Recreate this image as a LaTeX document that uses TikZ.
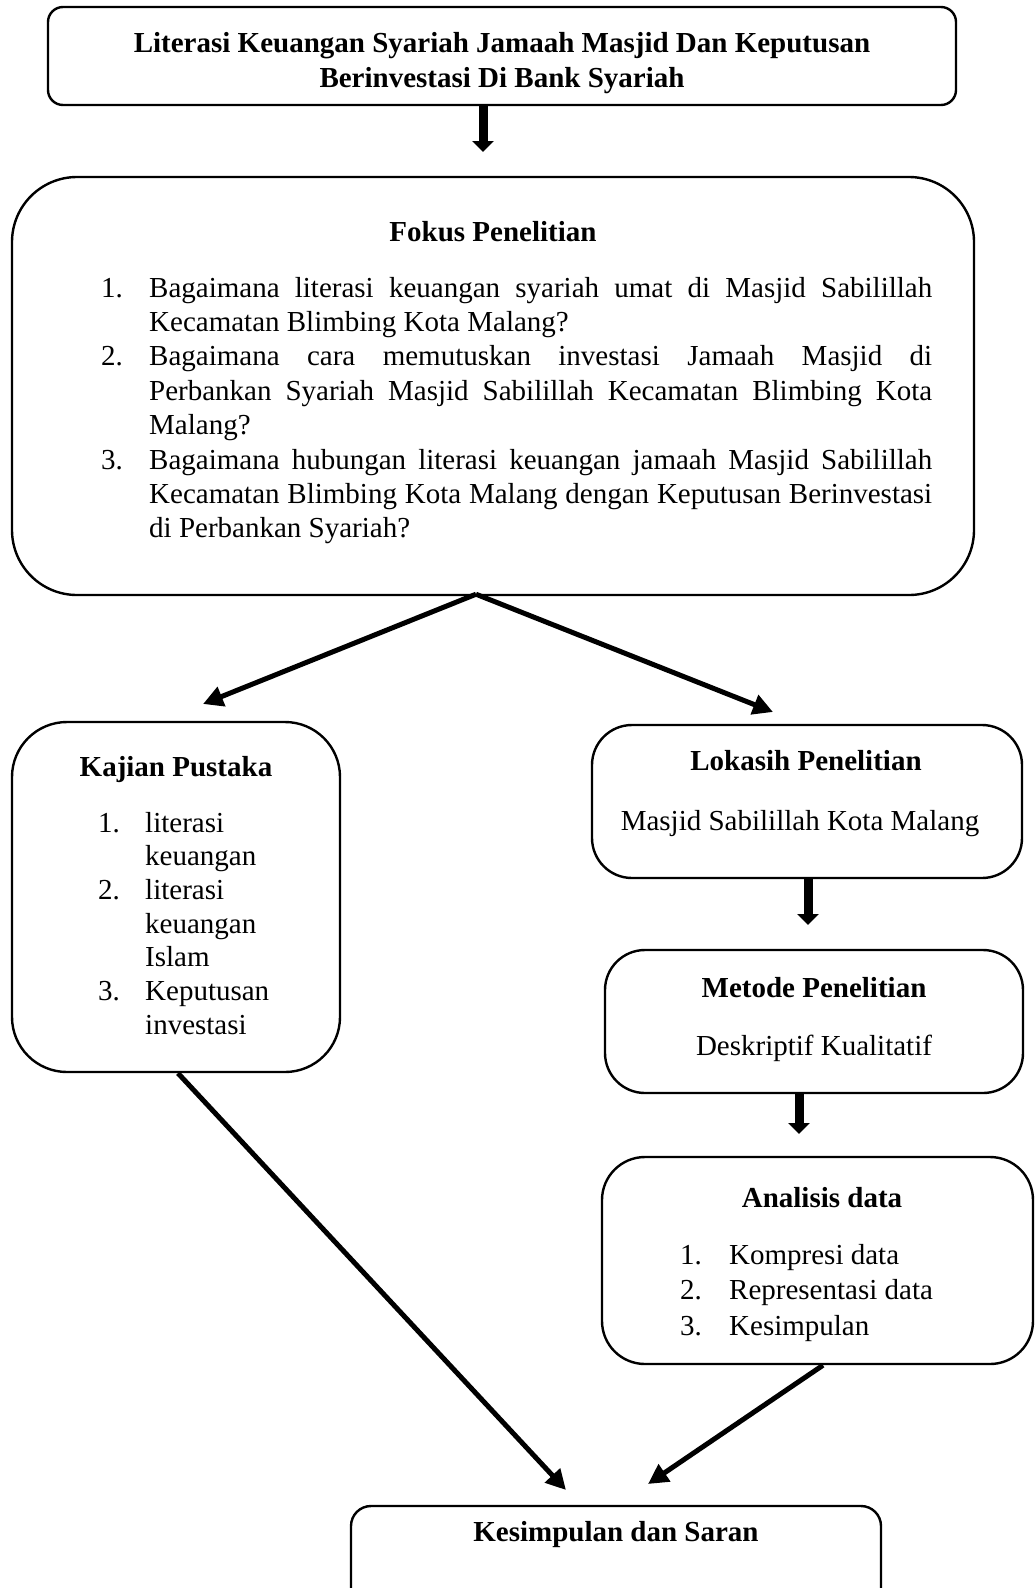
\documentclass[tikz,border=0pt]{standalone}
\usepackage{fontspec}
\setmainfont{Liberation Serif}
\usetikzlibrary{arrows.meta}
\tikzset{
  box/.style={draw, line width=2.4pt, inner sep=0pt},
  txt/.style={inner sep=0pt, anchor=base west, font=\fontsize{29pt}{34pt}\selectfont},
  hd/.style={inner sep=0pt, anchor=base, font=\fontsize{29pt}{34pt}\selectfont\bfseries},
  ctr/.style={inner sep=0pt, anchor=base, font=\fontsize{29pt}{34pt}\selectfont},
  blockarrow/.style={line width=9pt, -{Triangle[length=11pt,width=21pt]}},
  diag/.style={line width=5pt, -{Triangle[length=20pt,width=20pt]}},
}
\newcommand{\jl}[1]{\makebox[783pt][s]{#1}}
\begin{document}
\begin{tikzpicture}[x=1pt,y=-1pt]
\clip (0,0) rectangle (1034,1588);

% boxes
\node[box, rounded corners=15pt, minimum width=908pt, minimum height=98pt] (top) at (502,56) {};
\node[box, rounded corners=65pt, minimum width=962pt, minimum height=418pt] (fokus) at (493,386) {};
\node[box, rounded corners=55pt, minimum width=328pt, minimum height=350pt] (kajian) at (176,897) {};
\node[box, rounded corners=40pt, minimum width=430pt, minimum height=153pt] (lokasi) at (807,801.5) {};
\node[box, rounded corners=40pt, minimum width=418pt, minimum height=143pt] (metode) at (814,1021.5) {};
\node[box, rounded corners=43pt, minimum width=431pt, minimum height=207pt] (analisis) at (817.5,1260.5) {};
\node[box, rounded corners=20pt, minimum width=530pt, minimum height=148pt] (kesimpulan) at (616,1580) {};

% title
\node[hd] (t1) at (502,52) {Literasi Keuangan Syariah Jamaah Masjid Dan Keputusan};
\node[hd] (t2) at (502,87) {Berinvestasi Di Bank Syariah};

% fokus
\node[hd] (fh) at (493,241) {Fokus Penelitian};
\node[txt] (fn1) at (101,297) {1.};
\node[txt] (fl1) at (149,297) {\jl{Bagaimana literasi keuangan syariah umat di Masjid Sabilillah}};
\node[txt] (fl2) at (149,331.4) {Kecamatan Blimbing Kota Malang?};
\node[txt] (fn2) at (101,365.8) {2.};
\node[txt] (fl3) at (149,365.8) {\jl{Bagaimana cara memutuskan investasi Jamaah Masjid di}};
\node[txt] (fl4) at (149,400.2) {\jl{Perbankan Syariah Masjid Sabilillah Kecamatan Blimbing Kota}};
\node[txt] (fl5) at (149,434.6) {Malang?};
\node[txt] (fn3) at (101,469) {3.};
\node[txt] (fl6) at (149,469) {\jl{Bagaimana hubungan literasi keuangan jamaah Masjid Sabilillah}};
\node[txt] (fl7) at (149,503.4) {\jl{Kecamatan Blimbing Kota Malang dengan Keputusan Berinvestasi}};
\node[txt] (fl8) at (149,537.8) {di Perbankan Syariah?};

% kajian
\node[hd] (kh) at (176,776) {Kajian Pustaka};
\node[txt] (kn1) at (98,832) {1.};
\node[txt] (kl1) at (145,832) {literasi};
\node[txt] (kl2) at (145,865.7) {keuangan};
\node[txt] (kn2) at (98,899.4) {2.};
\node[txt] (kl3) at (145,899.4) {literasi};
\node[txt] (kl4) at (145,933.1) {keuangan};
\node[txt] (kl5) at (145,966.8) {Islam};
\node[txt] (kn3) at (98,1000.5) {3.};
\node[txt] (kl6) at (145,1000.5) {Keputusan};
\node[txt] (kl7) at (145,1034.2) {investasi};

% lokasi
\node[hd] (lh) at (806,770) {Lokasih Penelitian};
\node[ctr] (ll) at (800,830) {Masjid Sabilillah Kota Malang};

% metode
\node[hd] (mh) at (814,997) {Metode Penelitian};
\node[ctr] (ml) at (814,1055) {Deskriptif Kualitatif};

% analisis
\node[hd] (ah) at (822,1207) {Analisis data};
\node[txt] (an1) at (680,1264) {1.};
\node[txt] (al1) at (729,1264) {Kompresi data};
\node[txt] (an2) at (680,1299.5) {2.};
\node[txt] (al2) at (729,1299.5) {Representasi data};
\node[txt] (an3) at (680,1335) {3.};
\node[txt] (al3) at (729,1335) {Kesimpulan};

% kesimpulan
\node[hd] (sh) at (616,1541) {Kesimpulan dan Saran};

% arrow end points
\coordinate (a1e) at (483,152);
\coordinate (a2e) at (808,925);
\coordinate (a3e) at (799,1134);
\coordinate (fl) at (203,704);
\coordinate (fr) at (773,712);
\coordinate (ke) at (566,1490);
\coordinate (ae) at (648,1484);

% connectors
\draw[blockarrow] ([xshift=-19pt]top.south) -- (a1e);
\draw[blockarrow] ([xshift=1pt]lokasi.south) -- (a2e);
\draw[blockarrow] ([xshift=-15pt]metode.south) -- (a3e);
\draw[diag] ([xshift=-17pt,yshift=2pt]fokus.south) -- (fl);
\draw[diag] ([xshift=-17pt,yshift=2pt]fokus.south) -- (fr);
\draw[diag] ([xshift=2pt]kajian.south) -- (ke);
\draw[diag] ([xshift=5.5pt]analisis.south) -- (ae);
\end{tikzpicture}
\end{document}
